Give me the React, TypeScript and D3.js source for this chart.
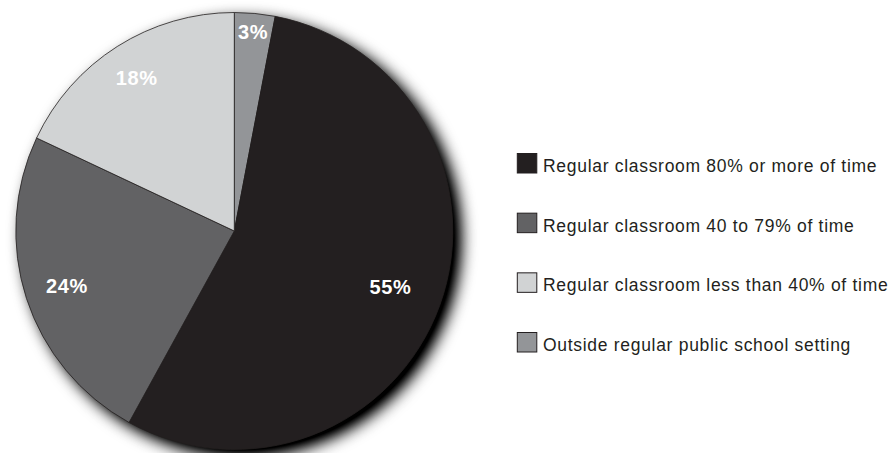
import React from "react";
import * as d3 from "d3";

const categories = [
  "Outside regular public school setting",
  "Regular classroom 80% or more of time",
  "Regular classroom 40 to 79% of time",
  "Regular classroom less than 40% of time",
];
const values = [3, 55, 24, 18];
const labels = ["3%", "55%", "24%", "18%"];
const colors = ["#939598", "#231f20", "#626264", "#d1d3d4"];
const labelRadii = [200, 166, 176, 182];
const legendOrder = [1, 2, 3, 0];

const W = 893;
const H = 453;
const cx = 234.3;
const cy = 231;
const R = 218.5;

export default function App() {
  const pie = d3.pie<number>().sort(null).value((d) => d)(values);
  const arc = d3.arc<d3.PieArcDatum<number>>().innerRadius(0).outerRadius(R);
  const legendY = d3.scalePoint<number>().domain(legendOrder).range([163, 342]);
  const font = "'Liberation Sans', Arial, Helvetica, sans-serif";
  return (
    <svg width={W} height={H} style={{ position: "absolute", left: 0, top: 0 }}>
      <defs>
        <filter id="shadow" x="-20%" y="-20%" width="140%" height="140%">
          <feGaussianBlur in="SourceAlpha" stdDeviation="8" />
          <feOffset dx="8" dy="7" result="b" />
          <feComponentTransfer>
            <feFuncA type="linear" slope="1.25" />
          </feComponentTransfer>
        </filter>
      </defs>
      <rect width={W} height={H} fill="#ffffff" />
      <circle cx={cx} cy={cy} r={R} fill="#000" filter="url(#shadow)" />
      <g transform={`translate(${cx},${cy})`}>
        {pie.map((p, i) => (
          <path key={i} d={arc(p) || ""} fill={colors[i]} stroke="#231f20" strokeWidth={0.8} />
        ))}
        {pie.map((p, i) => {
          const a = (p.startAngle + p.endAngle) / 2;
          const r = labelRadii[i];
          return (
            <text
              key={"l" + i}
              x={Math.sin(a) * r}
              y={-Math.cos(a) * r}
              dy="0.36em"
              textAnchor="middle"
              fill="#ffffff"
              fontFamily={font}
              fontWeight="bold"
              fontSize={20}
              letterSpacing={0.6}
            >
              {labels[i]}
            </text>
          );
        })}
      </g>
      <g>
        {legendOrder.map((i) => {
          const y = legendY(i) as number;
          return (
            <g key={"g" + i}>
              <rect x={517.3} y={y - 9.5} width={19.5} height={19.5} fill={colors[i]} stroke="#231f20" strokeWidth={1} />
              <text x={543} y={y + 9} fill="#231f20" fontFamily={font} fontSize={17.5} letterSpacing={0.7}>
                {categories[i]}
              </text>
            </g>
          );
        })}
      </g>
    </svg>
  );
}
